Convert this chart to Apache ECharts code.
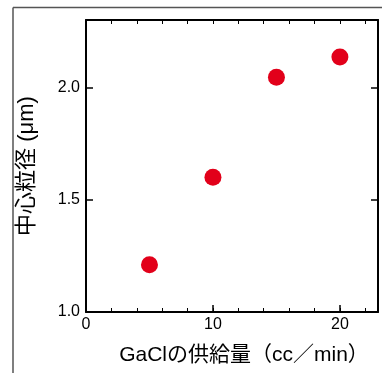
<!DOCTYPE html>
<html>
<head>
<meta charset="utf-8">
<script src="https://cdn.jsdelivr.net/npm/echarts@6/dist/echarts.min.js"></script>
<style>
  html, body { margin: 0; padding: 0; background: #fff; }
  #chart { width: 382px; height: 373px; }
</style>
</head>
<body>
<div id="chart"></div>
<script>
// data
const supplyRates = [5, 10, 15, 20];
const diameters = [1.21, 1.60, 2.045, 2.135];
const xLabels = [0, 10, 20];
const yLabels = [1.0, 1.5, 2.0];

const fontFamily = '"Liberation Sans", "Noto Sans CJK JP", sans-serif';

document.addEventListener('DOMContentLoaded', function() {
  const chart = echarts.init(document.getElementById('chart'));
  const axisLine = { onZero: false, lineStyle: { color: '#000', width: 2 } };
  const majorTick = { inside: true, length: 7, lineStyle: { color: '#000', width: 1.5 } };
  const minorTick = { inside: true, length: 4, lineStyle: { color: '#000', width: 1 } };
  const option = {
    animation: false,
    grid: { left: 86, top: 20, right: 4, bottom: 61, outerBoundsMode: 'none' },
    graphic: [
      { type: 'line', shape: { x1: 13, y1: 7.5, x2: 382, y2: 7.5 }, style: { stroke: '#555', lineWidth: 1.5 } },
      { type: 'line', shape: { x1: 13, y1: 7.5, x2: 13, y2: 373 }, style: { stroke: '#555', lineWidth: 1.5 } }
    ],
    xAxis: [
      {
        type: 'value', position: 'bottom', min: 0, max: 23, interval: 10,
        axisLine: axisLine,
        axisTick: majorTick,
        axisLabel: {
          color: '#000', fontSize: 16, fontFamily: fontFamily, margin: 5,
          formatter: function(v) { return xLabels.indexOf(v) >= 0 ? String(v) : ''; }
        },
        splitLine: { show: false },
        name: 'GaClの供給量（cc／min）', nameLocation: 'middle', nameGap: 33,
        nameTextStyle: { color: '#000', fontSize: 21, fontFamily: fontFamily, padding: [0, 0, 0, 24] }
      },
      {
        type: 'value', position: 'bottom', min: 0, max: 23, interval: 2,
        axisLine: { show: false, onZero: false },
        axisTick: minorTick,
        axisLabel: { show: false }, splitLine: { show: false }
      },
      {
        type: 'value', position: 'top', min: 0, max: 23, interval: 2,
        axisLine: axisLine,
        axisTick: minorTick,
        axisLabel: { show: false }, splitLine: { show: false }
      }
    ],
    yAxis: [
      {
        type: 'value', position: 'left', min: 1, max: 2.3, interval: 0.5,
        axisLine: axisLine,
        axisTick: majorTick,
        axisLabel: {
          color: '#000', fontSize: 16, fontFamily: fontFamily, margin: 6,
          formatter: function(v) {
            return yLabels.some(function(t) { return Math.abs(t - v) < 1e-6; }) ? v.toFixed(1) : '';
          }
        },
        splitLine: { show: false },
        name: '中心粒径 (μm)', nameLocation: 'middle', nameGap: 48,
        nameTextStyle: { color: '#000', fontSize: 22, fontFamily: fontFamily }
      },
      {
        type: 'value', position: 'right', min: 1, max: 2.3, interval: 0.5,
        axisLine: axisLine,
        axisTick: majorTick,
        axisLabel: { show: false }, splitLine: { show: false }
      }
    ],
    series: [
      {
        type: 'scatter', xAxisIndex: 0, yAxisIndex: 0,
        symbolSize: 17,
        itemStyle: { color: '#e2001a', opacity: 1 },
        data: supplyRates.map(function(x, i) { return [x, diameters[i]]; })
      }
    ]
  };
  chart.setOption(option);
});
</script>
</body>
</html>
